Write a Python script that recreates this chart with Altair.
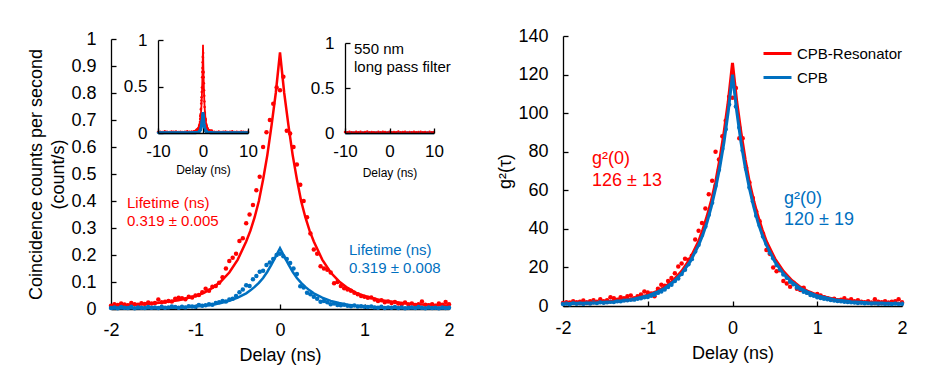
import altair as alt
import pandas as pd

RED = "#FF0000"
BLUE = "#0070C0"
FONT = "Liberation Sans"

# ---------------- data ----------------
delay = [-2.00, -1.96, -1.92, -1.88, -1.84, -1.80, -1.76, -1.72, -1.68, -1.64,
         -1.60, -1.56, -1.52, -1.48, -1.44, -1.40, -1.36, -1.32, -1.28, -1.24,
         -1.20, -1.16, -1.12, -1.08, -1.04, -1.00, -0.96, -0.92, -0.88, -0.84,
         -0.80, -0.76, -0.72, -0.68, -0.64, -0.60, -0.56, -0.52, -0.48, -0.44,
         -0.40, -0.36, -0.32, -0.28, -0.24, -0.20, -0.16, -0.12, -0.08, -0.04,
         0.00, 0.04, 0.08, 0.12, 0.16, 0.20, 0.24, 0.28, 0.32, 0.36,
         0.40, 0.44, 0.48, 0.52, 0.56, 0.60, 0.64, 0.68, 0.72, 0.76,
         0.80, 0.84, 0.88, 0.92, 0.96, 1.00, 1.04, 1.08, 1.12, 1.16,
         1.20, 1.24, 1.28, 1.32, 1.36, 1.40, 1.44, 1.48, 1.52, 1.56,
         1.60, 1.64, 1.68, 1.72, 1.76, 1.80, 1.84, 1.88, 1.92, 1.96, 2.00]

# coincidence counts (count/s)
counts_resonator = [0.012, 0.018, 0.015, 0.020, 0.017, 0.014, 0.022, 0.018, 0.016, 0.021,
                    0.019, 0.024, 0.020, 0.022, 0.035, 0.025, 0.027, 0.030, 0.028, 0.038,
                    0.042, 0.040, 0.036, 0.045, 0.043, 0.050, 0.052, 0.062, 0.075, 0.068,
                    0.082, 0.085, 0.097, 0.118, 0.150, 0.178, 0.190, 0.205, 0.252, 0.262,
                    0.318, 0.350, 0.385, 0.440, 0.490, 0.600, 0.655, 0.700, 0.760, 0.820,
                    0.810, 0.860, 0.660, 0.650, 0.600, 0.535, 0.460, 0.400, 0.340, 0.280,
                    0.220, 0.205, 0.158, 0.150, 0.145, 0.135, 0.095, 0.100, 0.085, 0.077,
                    0.072, 0.068, 0.060, 0.055, 0.048, 0.045, 0.042, 0.043, 0.035, 0.030,
                    0.032, 0.025, 0.028, 0.022, 0.026, 0.020, 0.018, 0.024, 0.016, 0.020,
                    0.015, 0.018, 0.028, 0.016, 0.014, 0.018, 0.012, 0.020, 0.016, 0.026, 0.018]
counts_cpb = [0.004, 0.006, 0.003, 0.007, 0.005, 0.004, 0.008, 0.003, 0.006, 0.005,
              0.004, 0.007, 0.005, 0.006, 0.004, 0.008, 0.005, 0.006, 0.009, 0.007,
              0.005, 0.008, 0.006, 0.010, 0.009, 0.008, 0.015, 0.012, 0.014, 0.018,
              0.016, 0.022, 0.025, 0.030, 0.028, 0.035, 0.038, 0.048, 0.062, 0.072,
              0.088, 0.085, 0.110, 0.122, 0.138, 0.142, 0.163, 0.172, 0.185, 0.200,
              0.205, 0.195, 0.185, 0.170, 0.150, 0.130, 0.084, 0.080, 0.060, 0.055,
              0.045, 0.038, 0.027, 0.030, 0.025, 0.018, 0.020, 0.015, 0.014, 0.016,
              0.012, 0.010, 0.013, 0.009, 0.010, 0.008, 0.007, 0.009, 0.006, 0.005,
              0.008, 0.004, 0.006, 0.005, 0.007, 0.004, 0.006, 0.003, 0.005, 0.006,
              0.004, 0.007, 0.005, 0.003, 0.006, 0.004, 0.005, 0.003, 0.006, 0.004, 0.005]

# g2(tau)
g2_resonator = [1.5, 2.0, 1.8, 2.5, 2.0, 2.2, 2.8, 2.0, 2.5, 3.0,
                2.2, 3.5, 2.5, 3.0, 4.5, 4.0, 3.2, 4.5, 4.0, 5.0,
                5.5, 4.0, 5.0, 6.0, 7.5, 7.0, 6.5, 5.0, 9.0, 11.0,
                10.5, 13.0, 14.5, 17.0, 20.5, 22.0, 24.5, 24.0, 26.0, 34.5,
                39.0, 43.0, 50.5, 58.0, 65.0, 80.0, 76.0, 88.0, 96.0, 108.5,
                108.0, 113.0, 87.0, 87.0, 72.0, 64.0, 56.0, 49.0, 44.0, 37.5,
                29.0, 27.0, 20.0, 18.0, 18.5, 13.0, 11.7, 10.0, 12.0, 9.0,
                8.3, 9.5, 7.0, 6.5, 5.7, 6.2, 5.5, 4.5, 4.0, 3.5,
                3.8, 3.0, 3.2, 4.0, 2.8, 3.5, 2.5, 3.0, 2.2, 2.0,
                2.5, 1.8, 3.5, 2.2, 2.0, 2.5, 1.8, 2.2, 2.5, 3.5, 2.0]
g2_cpb = [1.0, 1.3, 0.9, 1.5, 1.2, 1.4, 1.1, 1.6, 1.3, 1.8,
          1.5, 1.9, 1.7, 2.0, 2.2, 2.1, 2.5, 2.4, 2.8, 3.0,
          3.2, 3.3, 3.8, 4.0, 4.5, 4.7, 5.3, 5.8, 6.8, 7.5,
          8.6, 9.9, 11.0, 12.9, 14.3, 16.6, 18.8, 21.7, 24.3, 28.2,
          31.8, 36.8, 41.2, 47.3, 53.6, 62.3, 70.6, 81.5, 91.7, 104.5,
          117.0, 103.5, 92.5, 80.6, 71.2, 61.5, 54.3, 46.8, 41.8, 36.1,
          32.3, 27.6, 24.8, 21.2, 19.1, 16.3, 14.7, 12.6, 11.3, 9.6,
          8.8, 7.4, 6.8, 5.7, 5.3, 4.5, 4.2, 3.7, 3.5, 3.1,
          2.9, 2.6, 2.5, 2.2, 2.1, 1.9, 1.8, 1.6, 1.7, 1.4,
          1.5, 1.3, 1.4, 1.2, 1.3, 1.1, 1.2, 1.0, 1.3, 1.1, 1.2]

# fitted curves
fit_delay = [-2.0, -1.8, -1.6, -1.4, -1.2, -1.0, -0.9, -0.8, -0.7, -0.6,
             -0.5, -0.4, -0.35, -0.3, -0.25, -0.2, -0.15, -0.1, -0.05, 0.0,
             0.05, 0.1, 0.15, 0.2, 0.25, 0.3, 0.35, 0.4, 0.5, 0.6,
             0.7, 0.8, 0.9, 1.0, 1.2, 1.4, 1.6, 1.8, 2.0]
fit_counts_resonator = [0.013, 0.015, 0.018, 0.024, 0.032, 0.048, 0.060, 0.078, 0.102, 0.135,
                        0.183, 0.250, 0.290, 0.340, 0.400, 0.480, 0.570, 0.680, 0.800, 0.950,
                        0.800, 0.680, 0.570, 0.480, 0.400, 0.340, 0.290, 0.250, 0.183, 0.135,
                        0.102, 0.078, 0.060, 0.048, 0.032, 0.024, 0.018, 0.015, 0.013]
fit_counts_cpb = [0.002, 0.003, 0.003, 0.004, 0.006, 0.009, 0.012, 0.016, 0.022, 0.030,
                  0.042, 0.058, 0.069, 0.082, 0.097, 0.115, 0.138, 0.165, 0.195, 0.225,
                  0.195, 0.165, 0.138, 0.115, 0.097, 0.082, 0.069, 0.058, 0.042, 0.030,
                  0.022, 0.016, 0.012, 0.009, 0.006, 0.004, 0.003, 0.003, 0.002]
fit_g2_resonator = [1.3, 1.5, 1.8, 2.4, 3.5, 5.6, 7.4, 9.8, 13.2, 18.0,
                    24.5, 33.5, 39.5, 46.5, 54.5, 64.0, 76.0, 90.0, 106.0, 126.0,
                    106.0, 90.0, 76.0, 64.0, 54.5, 46.5, 39.5, 33.5, 24.5, 18.0,
                    13.2, 9.8, 7.4, 5.6, 3.5, 2.4, 1.8, 1.5, 1.3]
fit_g2_cpb = [1.2, 1.4, 1.7, 2.2, 3.3, 5.3, 7.0, 9.2, 12.4, 16.8,
              23.0, 31.5, 37.0, 43.5, 51.5, 61.0, 72.0, 85.0, 101.0, 120.0,
              101.0, 85.0, 72.0, 61.0, 51.5, 43.5, 37.0, 31.5, 23.0, 16.8,
              12.4, 9.2, 7.0, 5.3, 3.3, 2.2, 1.7, 1.4, 1.2]

# inset 1 (wide range) extra baseline points
wide_delay = [-10.0, -9.5, -9.0, -8.5, -8.0, -7.5, -7.0, -6.5, -6.0, -5.5, -5.0, -4.5,
              -4.0, -3.5, -3.0, -2.5, 2.5, 3.0, 3.5, 4.0, 4.5, 5.0, 5.5, 6.0,
              6.5, 7.0, 7.5, 8.0, 8.5, 9.0, 9.5, 10.0]
wide_resonator = [0.012, 0.015, 0.010, 0.018, 0.014, 0.011, 0.016, 0.013, 0.017, 0.012, 0.015, 0.010,
                  0.014, 0.018, 0.013, 0.016, 0.015, 0.012, 0.017, 0.011, 0.014, 0.016, 0.010, 0.013,
                  0.018, 0.012, 0.015, 0.011, 0.016, 0.013, 0.010, 0.014]
wide_cpb = [0.004, 0.005, 0.003, 0.006, 0.004, 0.005, 0.003, 0.004, 0.006, 0.005, 0.003, 0.004,
            0.005, 0.004, 0.006, 0.005, 0.004, 0.003, 0.005, 0.004, 0.006, 0.003, 0.005, 0.004,
            0.003, 0.005, 0.004, 0.006, 0.003, 0.005, 0.004, 0.005]
wide_fit_ends = [-10.0, 10.0]
wide_fit_resonator_ends = [0.012, 0.012]
wide_fit_cpb_ends = [0.002, 0.002]

# inset 2 (550 nm long pass filter)
filter_delay = [-10.0, -9.5, -9.0, -8.5, -8.0, -7.5, -7.0, -6.5, -6.0, -5.5,
                -5.0, -4.5, -4.0, -3.5, -3.0, -2.5, -2.0, -1.5, -1.0, -0.5,
                0.0, 0.5, 1.0, 1.5, 2.0, 2.5, 3.0, 3.5, 4.0, 4.5,
                5.0, 5.5, 6.0, 6.5, 7.0, 7.5, 8.0, 8.5, 9.0, 9.5, 10.0]
filter_resonator = [0.012, 0.008, 0.015, 0.010, 0.006, 0.013, 0.009, 0.014, 0.007, 0.011,
                    0.016, 0.008, 0.012, 0.010, 0.006, 0.013, 0.009, 0.015, 0.011, 0.007,
                    0.014, 0.010, 0.012, 0.008, 0.016, 0.009, 0.011, 0.013, 0.007, 0.012,
                    0.010, 0.015, 0.008, 0.011, 0.014, 0.009, 0.012, 0.006, 0.013, 0.010, 0.011]
filter_cpb = [0.003, 0.002, 0.004, 0.003, 0.002, 0.003, 0.004, 0.002, 0.003, 0.003,
              0.002, 0.004, 0.003, 0.003, 0.002, 0.003, 0.004, 0.003, 0.002, 0.003,
              0.005, 0.003, 0.002, 0.004, 0.003, 0.002, 0.003, 0.004, 0.003, 0.002,
              0.003, 0.003, 0.004, 0.002, 0.003, 0.003, 0.002, 0.004, 0.003, 0.002, 0.003]

series_names = ["CPB-Resonator", "CPB"]

main_x_ticks = [-2, -1, 0, 1, 2]
main_y_ticks = [0, 0.1, 0.2, 0.3, 0.4, 0.5, 0.6, 0.7, 0.8, 0.9, 1]
inset_x_ticks = [-10, 0, 10]
inset_y_ticks = [0, 0.5, 1]
g2_y_ticks = [0, 20, 40, 60, 80, 100, 120, 140]


def frame(x, y):
    return pd.DataFrame({"t": x, "v": y})


# ---------------- layout (pixels inside the plot group) ----------------
W, H = 910, 357
INWARD = alt.ExprRef(expr="-5")


def axis(**kw):
    base = dict(grid=False, domainColor="black", tickColor="black", labelColor="black",
                titleColor="black", labelFont=FONT, titleFont=FONT, titleFontWeight="normal",
                labelOverlap=False, labelFlush=False, tickSize=INWARD, domainWidth=1.3,
                tickWidth=1.3, labelExpr="datum.value", titleBaseline="middle")
    base.update(kw)
    return alt.Axis(**base)


def panel(xr, yr, xdom, ydom, xaxis, yaxis):
    X = alt.X("t:Q", scale=alt.Scale(domain=xdom, range=xr, nice=False, zero=False), axis=xaxis)
    Y = alt.Y("v:Q", scale=alt.Scale(domain=ydom, range=yr, nice=False, zero=False), axis=yaxis)
    return X, Y


def dots(d, color, size, X, Y):
    return alt.Chart(d).mark_circle(size=size, color=color, opacity=1).encode(x=X, y=Y)


def curve(d, color, width, X, Y):
    return alt.Chart(d).mark_line(color=color, strokeWidth=width).encode(x=X, y=Y)


# main left panel
mX, mY = panel([103, 441], [301, 31], [-2, 2], [0, 1],
               axis(values=main_x_ticks, orient="bottom", offset=-(H - 301), title="Delay (ns)",
                    labelFontSize=18, titleFontSize=18, labelPadding=17, titleY=46),
               axis(values=main_y_ticks, orient="left", offset=-103,
                    title=["Coincidence counts per second", "(count/s)"], titleLineHeight=22,
                    labelFontSize=18, titleFontSize=18, labelPadding=20, titleX=-75, titleY=166))
main_left = alt.layer(
    dots(frame(delay, counts_resonator), RED, 20, mX, mY),
    curve(frame(fit_delay, fit_counts_resonator), RED, 2.5, mX, mY),
    dots(frame(delay, counts_cpb), BLUE, 20, mX, mY),
    curve(frame(fit_delay, fit_counts_cpb), BLUE, 2.5, mX, mY),
)

# inset 1
i1X, i1Y = panel([150, 240], [125, 32], [-10, 10], [0, 1],
                 axis(values=inset_x_ticks, orient="bottom", offset=-(H - 125), title="Delay (ns)",
                      labelFontSize=17, titleFontSize=12, labelPadding=15, titleY=36, zindex=1),
                 axis(values=inset_y_ticks, orient="left", offset=-150, title=None,
                      labelFontSize=17, labelPadding=16))
inset1 = alt.layer(
    dots(frame(wide_delay + delay, wide_resonator + counts_resonator), RED, 6, i1X, i1Y),
    curve(frame(wide_fit_ends[:1] + fit_delay + wide_fit_ends[1:],
                wide_fit_resonator_ends[:1] + fit_counts_resonator + wide_fit_resonator_ends[1:]),
          RED, 1.8, i1X, i1Y),
    dots(frame(wide_delay + delay, wide_cpb + counts_cpb), BLUE, 6, i1X, i1Y),
    curve(frame(wide_fit_ends[:1] + fit_delay + wide_fit_ends[1:],
                wide_fit_cpb_ends[:1] + fit_counts_cpb + wide_fit_cpb_ends[1:]),
          BLUE, 3, i1X, i1Y),
)

# inset 2
i2X, i2Y = panel([337, 426], [125, 35], [-10, 10], [0, 1],
                 axis(values=inset_x_ticks, orient="bottom", offset=-(H - 125), title="Delay (ns)",
                      labelFontSize=17, titleFontSize=12, labelPadding=15, titleY=39, zindex=1),
                 axis(values=inset_y_ticks, orient="left", offset=-337, title=None,
                      labelFontSize=17, labelPadding=16))
inset2 = alt.layer(
    curve(frame(filter_delay, filter_cpb), BLUE, 3, i2X, i2Y),
    dots(frame(filter_delay, filter_resonator), RED, 6, i2X, i2Y),
)

# right panel
rX, rY = panel([555, 894], [298, 28], [-2, 2], [0, 140],
               axis(values=main_x_ticks, orient="bottom", offset=-(H - 298), title="Delay (ns)",
                    labelFontSize=18, titleFontSize=18, labelPadding=18, titleY=47),
               axis(values=g2_y_ticks, orient="left", offset=-555, title="g²(τ)",
                    labelFontSize=18, titleFontSize=18, labelPadding=20, titleX=-58, titleY=163))
color = alt.Color("s:N", scale=alt.Scale(domain=series_names, range=[RED, BLUE]),
                  legend=alt.Legend(orient="none", legendX=754, legendY=30, title=None,
                                    symbolType="stroke", symbolSize=784, symbolStrokeWidth=3,
                                    labelFontSize=15, labelFont=FONT, labelColor="black",
                                    labelOffset=4, rowPadding=-3, padding=0))


def named_curve(x, y, name):
    d = frame(x, y)
    d["s"] = name
    return alt.Chart(d).mark_line(strokeWidth=3).encode(x=rX, y=rY, color=color)


right = alt.layer(
    dots(frame(delay, g2_resonator), RED, 20, rX, rY),
    dots(frame(delay, g2_cpb), BLUE, 20, rX, rY),
    named_curve(fit_delay, fit_g2_resonator, series_names[0]),
    named_curve(fit_delay, fit_g2_cpb, series_names[1]),
)

# annotations
one = pd.DataFrame({"a": [0]})


def note(text, x, y, color, size):
    return alt.Chart(one).mark_text(text=text, align="left", baseline="middle", font=FONT,
                                    fontSize=size, color=color).encode(
        x=alt.value(x), y=alt.value(y))


notes = alt.layer(
    note("Lifetime (ns)", 119, 195, RED, 15),
    note("0.319 ± 0.005", 119, 213, RED, 15),
    note("Lifetime (ns)", 341, 242, BLUE, 15),
    note("0.319 ± 0.008", 341, 260, BLUE, 15),
    note("550 nm", 346, 41, "black", 15),
    note("long pass filter", 346, 59, "black", 15),
    note("g²(0)", 584, 151, RED, 18),
    note("126 ± 13", 584, 173, RED, 18),
    note("g²(0)", 776, 191, BLUE, 18),
    note("120 ± 19", 776, 212, BLUE, 18),
)

chart = alt.layer(main_left, inset1, inset2, right, notes).resolve_scale(
    x="independent", y="independent"
).resolve_axis(
    x="independent", y="independent"
).properties(
    width=W, height=H, padding=0, autosize=alt.AutoSizeParams(type="none"), background="white"
).configure_view(stroke=None)

chart.save("out.html", embed_options={"renderer": "svg", "actions": False})
